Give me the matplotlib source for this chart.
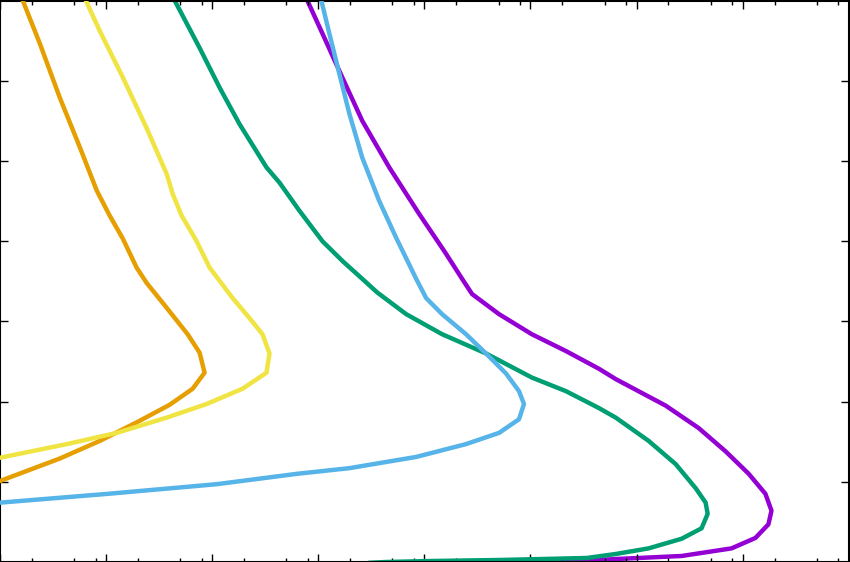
import numpy as np
import matplotlib
matplotlib.use("Agg")
import matplotlib.pyplot as plt
from matplotlib.ticker import LogLocator, NullFormatter

# %% data (x on log axis, y linear 0..7)
orange_x = [1.48, 1.64, 2.38, 3.66, 5.66, 8.17, 10.8, 14.4, 19.4, 24.1, 37.2,
            58.7, 76.1, 84.8, 65.4, 39.7, 20.7, 8.73, 3.66, 1.0, 0.6]
orange_y = [7.16, 7.00, 6.46, 5.79, 5.17, 4.63, 4.32, 4.03, 3.67, 3.48, 3.17,
            2.84, 2.61, 2.36, 2.16, 1.96, 1.76, 1.51, 1.29, 1.01, 0.90]

yellow_x = [5.66, 6.44, 8.73, 14.4, 24.1, 37.2, 42.4, 51.5, 71.3, 94.6, 156,
            225, 298, 347, 325, 193, 88.6, 37.2, 12.6, 4.27, 1.0, 0.6]
yellow_y = [7.16, 7.00, 6.62, 6.04, 5.41, 4.84, 4.59, 4.32, 4.00, 3.67, 3.29,
            3.04, 2.84, 2.60, 2.36, 2.16, 1.97, 1.80, 1.61, 1.47, 1.30, 1.26]

green_x = [38.0, 44.3, 76.1, 118, 181, 325, 431, 664, 1094, 1700, 2600, 3600,
           6745, 1.47e4, 3.81e4, 1.03e5, 2.16e5, 4.41e5, 6.37e5, 1.30e6,
           2.34e6, 3.61e6, 4.48e6, 4.68e6, 4.10e6, 2.66e6, 1.30e6, 6.37e5,
           3.40e5, 5.06e4, 1.11e4, 4375, 3000]
green_y = [7.15, 7.00, 6.41, 5.91, 5.46, 4.92, 4.73, 4.38, 4.00, 3.75, 3.53, 3.36,
           3.09, 2.84, 2.60, 2.30, 2.13, 1.92, 1.80, 1.51,
           1.22, 0.92, 0.74, 0.60, 0.42, 0.29, 0.17, 0.10,
           0.05, 0.025, 0.012, 0.0, -0.01]

blue_x = [950, 1069, 1271, 1578, 1963, 2600, 3758, 5433, 8375, 1.04e4, 1.47e4,
          2.47e4, 3.81e4, 5.89e4, 7.80e4, 8.69e4, 7.80e4, 5.06e4, 2.47e4, 8375,
          1963, 635, 110, 10.4, 1.0, 0.6]
blue_y = [7.15, 7.00, 6.59, 6.09, 5.59, 5.04, 4.50, 4.04, 3.53, 3.29, 3.09,
          2.84, 2.60, 2.35, 2.13, 1.97, 1.78, 1.61, 1.47, 1.31,
          1.17, 1.10, 0.97, 0.85, 0.74, 0.71]

purple_x = [700, 789, 1094, 1687, 2600, 4667, 8933, 1.57e4, 2.27e4, 2.82e4,
            5.06e4, 1.03e5, 2.16e5, 4.41e5, 6.37e5, 1.88e6, 3.85e6, 6.90e6,
            1.14e7, 1.64e7, 1.87e7, 1.75e7, 1.32e7, 7.87e6, 2.66e6, 6.37e5,
            3.05e5, 1.49e5, 5.06e4]
purple_y = [7.15, 7.00, 6.59, 6.04, 5.50, 4.92, 4.34, 3.86, 3.53, 3.34,
            3.09, 2.84, 2.63, 2.41, 2.28, 1.95, 1.67, 1.38,
            1.10, 0.85, 0.64, 0.47, 0.30, 0.17, 0.075, 0.037,
            0.012, -0.012, -0.037]

# %% plot
fig = plt.figure(figsize=(8.5, 5.62), dpi=100)
ax = fig.add_axes([0.0, 0.0, 0.9985, 0.999])

style = dict(lw=3.2, solid_joinstyle="round", solid_capstyle="round")
ax.plot(purple_x, purple_y, color="#9400D3", zorder=1, **style)
ax.plot(green_x, green_y, color="#009E73", zorder=2, **style)
ax.plot(blue_x, blue_y, color="#56B4E9", zorder=3, **style)
ax.plot(orange_x, orange_y, color="#E69F00", zorder=4, **style)
ax.plot(yellow_x, yellow_y, color="#F0E442", zorder=5, **style)

ax.set_xscale("log")
ax.set_xlim(1, 1e8)
ax.set_ylim(0, 7)

ax.xaxis.set_major_locator(LogLocator(base=10, numticks=20))
ax.xaxis.set_minor_locator(LogLocator(base=10, subs=[2, 5, 8], numticks=20))
ax.xaxis.set_major_formatter(NullFormatter())
ax.xaxis.set_minor_formatter(NullFormatter())
ax.set_yticks(np.arange(1, 7))
ax.set_yticklabels([])

ax.tick_params(which="both", direction="in", top=True, right=True,
               color="black", width=1.0)
ax.tick_params(which="major", length=6)
ax.tick_params(which="minor", length=3)
for s in ax.spines.values():
    s.set_linewidth(1.5)
    s.set_color("black")

fig.savefig("out.png", dpi=100)
